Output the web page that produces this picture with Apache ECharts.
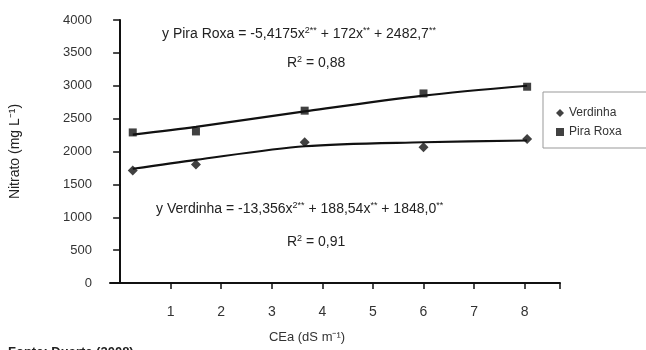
<!DOCTYPE html>
<html><head><meta charset="utf-8">
<script src="https://cdn.jsdelivr.net/npm/echarts@6/dist/echarts.min.js"></script>
<style>html,body{margin:0;padding:0;background:#fff}#c{width:646px;height:350px}</style>
</head><body><div id="c"></div>
<script>
// CEa positions of the observations (dS m-1)
const cea = [0.25, 1.5, 3.65, 6.0, 8.05];
const verdinha = [1712, 1803, 2141, 2065, 2192];
const piraRoxa = [2290, 2305, 2621, 2883, 2985];
// fitted trend lines
const verdinhaFit = [1738, 1874, 2080, 2141, 2167];
const piraRoxaFit = [2258, 2375, 2610, 2850, 3000];
const xTicks = [1, 2, 3, 4, 5, 6, 7, 8];
const yTicks = [0, 500, 1000, 1500, 2000, 2500, 3000, 3500, 4000];

const pairs = (xs, ys) => xs.map((x, i) => [x, ys[i]]);
const font = 'Liberation Sans, Arial, sans-serif';
const sup = {s: {fontSize: 9, padding: [0, 0, 7, 0], fontFamily: font}};
const chart = echarts.init(document.getElementById('c'));
chart.setOption({
  backgroundColor: '#fff',
  animation: false,
  grid: {left: 110, right: 86, top: 20, bottom: 67},
  xAxis: {
    type: 'value', min: -0.2, max: 8.7,
    axisLine: {lineStyle: {color: '#111', width: 2}},
    axisTick: {customValues: xTicks.concat([8.7]), length: 6, lineStyle: {color: '#111', width: 1.5}},
    axisLabel: {customValues: xTicks, color: '#333', fontSize: 14, fontFamily: font, margin: 22},
    splitLine: {show: false}
  },
  yAxis: {
    type: 'value', min: 0, max: 4000, interval: 500,
    name: 'Nitrato (mg L⁻¹)', nameLocation: 'middle', nameGap: 88, nameRotate: 90,
    nameTextStyle: {color: '#222', fontSize: 14, fontFamily: font},
    axisLine: {show: true, lineStyle: {color: '#111', width: 2}},
    axisTick: {show: true, length: 7, lineStyle: {color: '#111', width: 1.5}},
    axisLabel: {color: '#333', fontSize: 13, fontFamily: font, margin: 18,
      formatter: v => yTicks.includes(v) ? String(v) : ''},
    splitLine: {show: false}
  },
  legend: {
    orient: 'vertical', left: 543, top: 92, itemGap: 7,
    itemWidth: 8, itemHeight: 8,
    borderColor: '#999', borderWidth: 1, padding: [15, 40, 10, 13],
    textStyle: {color: '#333', fontSize: 12, fontFamily: font},
    data: [{name: 'Verdinha', icon: 'diamond'}, {name: 'Pira Roxa', icon: 'rect'}]
  },
  graphic: [
    {type: 'text', style: {x: 162, y: 34, align: 'left', verticalAlign: 'middle',
      text: 'y Pira Roxa = -5,4175x{s|2**} + 172x{s|**} + 2482,7{s|**}', fill: '#222',
      font: '14px ' + font, rich: sup}},
    {type: 'text', style: {x: 287, y: 63, align: 'left', verticalAlign: 'middle',
      text: 'R{s|2} = 0,88', fill: '#222', font: '14px ' + font, rich: sup}},
    {type: 'text', style: {x: 156, y: 209, align: 'left', verticalAlign: 'middle',
      text: 'y Verdinha = -13,356x{s|2**} + 188,54x{s|**} + 1848,0{s|**}', fill: '#222',
      font: '14px ' + font, rich: sup}},
    {type: 'text', style: {x: 287, y: 242, align: 'left', verticalAlign: 'middle',
      text: 'R{s|2} = 0,91', fill: '#222', font: '14px ' + font, rich: sup}},
    {type: 'text', style: {x: 307, y: 337, align: 'center', verticalAlign: 'middle',
      text: 'CEa (dS m⁻¹)', fill: '#333', font: '13px ' + font}},
    {type: 'text', style: {x: 8, y: 346, align: 'left', verticalAlign: 'top',
      text: 'Fonte: Duarte (2008)', fill: '#222', font: 'bold 13px ' + font}}
  ],
  series: [
    {name: 'Verdinha fit', type: 'line', data: pairs(cea, verdinhaFit), smooth: 0.3, showSymbol: false,
      lineStyle: {color: '#111', width: 2.2}, z: 2, silent: true},
    {name: 'Pira Roxa fit', type: 'line', data: pairs(cea, piraRoxaFit), smooth: 0.3, showSymbol: false,
      lineStyle: {color: '#111', width: 2.2}, z: 2, silent: true},
    {name: 'Verdinha', type: 'scatter', data: pairs(cea, verdinha), symbol: 'diamond', symbolSize: 10,
      itemStyle: {color: '#111'}, z: 3},
    {name: 'Pira Roxa', type: 'scatter', data: pairs(cea, piraRoxa), symbol: 'rect', symbolSize: 8,
      itemStyle: {color: '#111'}, z: 3}
  ]
});
</script></body></html>
